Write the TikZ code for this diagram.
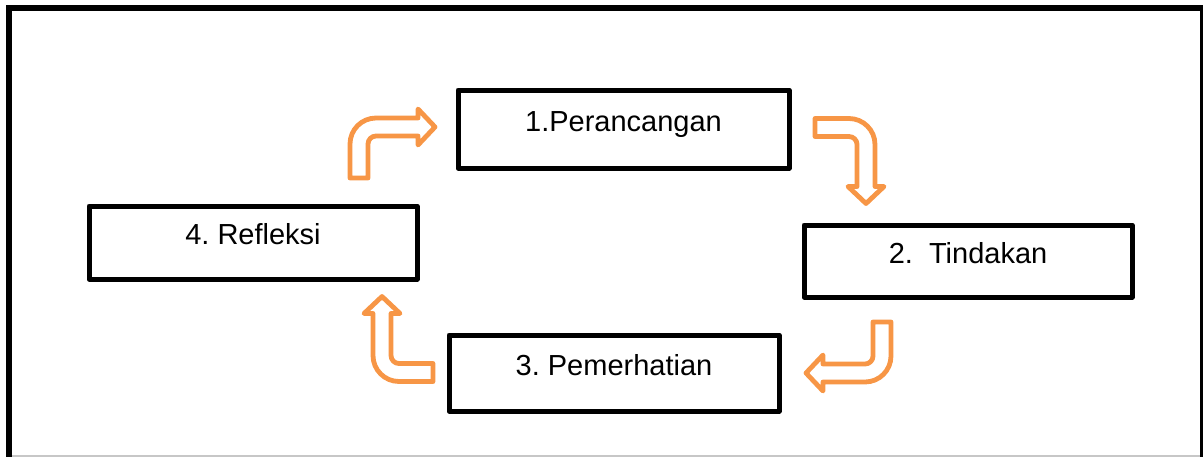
\documentclass[tikz,border=0pt]{standalone}
\usepackage{fontspec}
\setmainfont{Liberation Sans}
\frenchspacing
\definecolor{arroworange}{RGB}{247,150,70}
\tikzset{
  stagebox/.style={draw=black, line width=2.5pt, line join=round, fill=white,
    inner sep=0pt, outer sep=0pt, text height=5pt, text depth=3pt,
    font=\fontsize{14.5}{17}\selectfont},
  bentarrow/.style={draw=arroworange, fill=white, line width=2.4pt, line join=round},
  framebar/.style={draw=black}
}
\newcommand{\bentarrowpath}{%
  \path[bentarrow] (-9,0) -- (9,0) -- (9,-34)
    .. controls (9,-38.42) and (12.58,-42) .. (17,-42)
    -- (59,-42) -- (59,-33) -- (76,-51) -- (59,-69) -- (59,-60)
    -- (17,-60)
    .. controls (2.64,-60) and (-9,-48.36) .. (-9,-34) -- cycle;}
\begin{document}
\begin{tikzpicture}[x=0.5pt, y=-0.5pt]
\useasboundingbox (0,0) rectangle (1204,457);
% frame
\draw[framebar, line width=3pt] (9,5) -- (9,457);
\draw[framebar, line width=3pt] (6,8) -- (1203,8);
\draw[black, line width=1.5pt] (1201.5,5) -- (1201.5,457);
\draw[black!22, line width=1pt] (12,455.5) -- (1200,455.5);
% boxes
\node[stagebox, minimum width=165.5pt, minimum height=39pt] (b1) at (623.5,129) {1.Perancangan};
\node[stagebox, minimum width=164pt, minimum height=36pt] (b2) at (968,261) {2.\ \ Tindakan};
\node[stagebox, minimum width=165pt, minimum height=38pt] (b3) at (614,373) {3.\ Pemerhatian};
\node[stagebox, minimum width=164pt, minimum height=36.5pt] (b4) at (253,242.5) {4.\ Refleksi};
% bent arrows
\begin{scope}[shift={(359,178)}]
  \bentarrowpath
\end{scope}
\begin{scope}[shift={(815,127.5)}, rotate=-90]
  \bentarrowpath
\end{scope}
\begin{scope}[shift={(882,322)}, rotate=180]
  \bentarrowpath
\end{scope}
\begin{scope}[shift={(433,372.5)}, rotate=90]
  \bentarrowpath
\end{scope}
\end{tikzpicture}
\end{document}
